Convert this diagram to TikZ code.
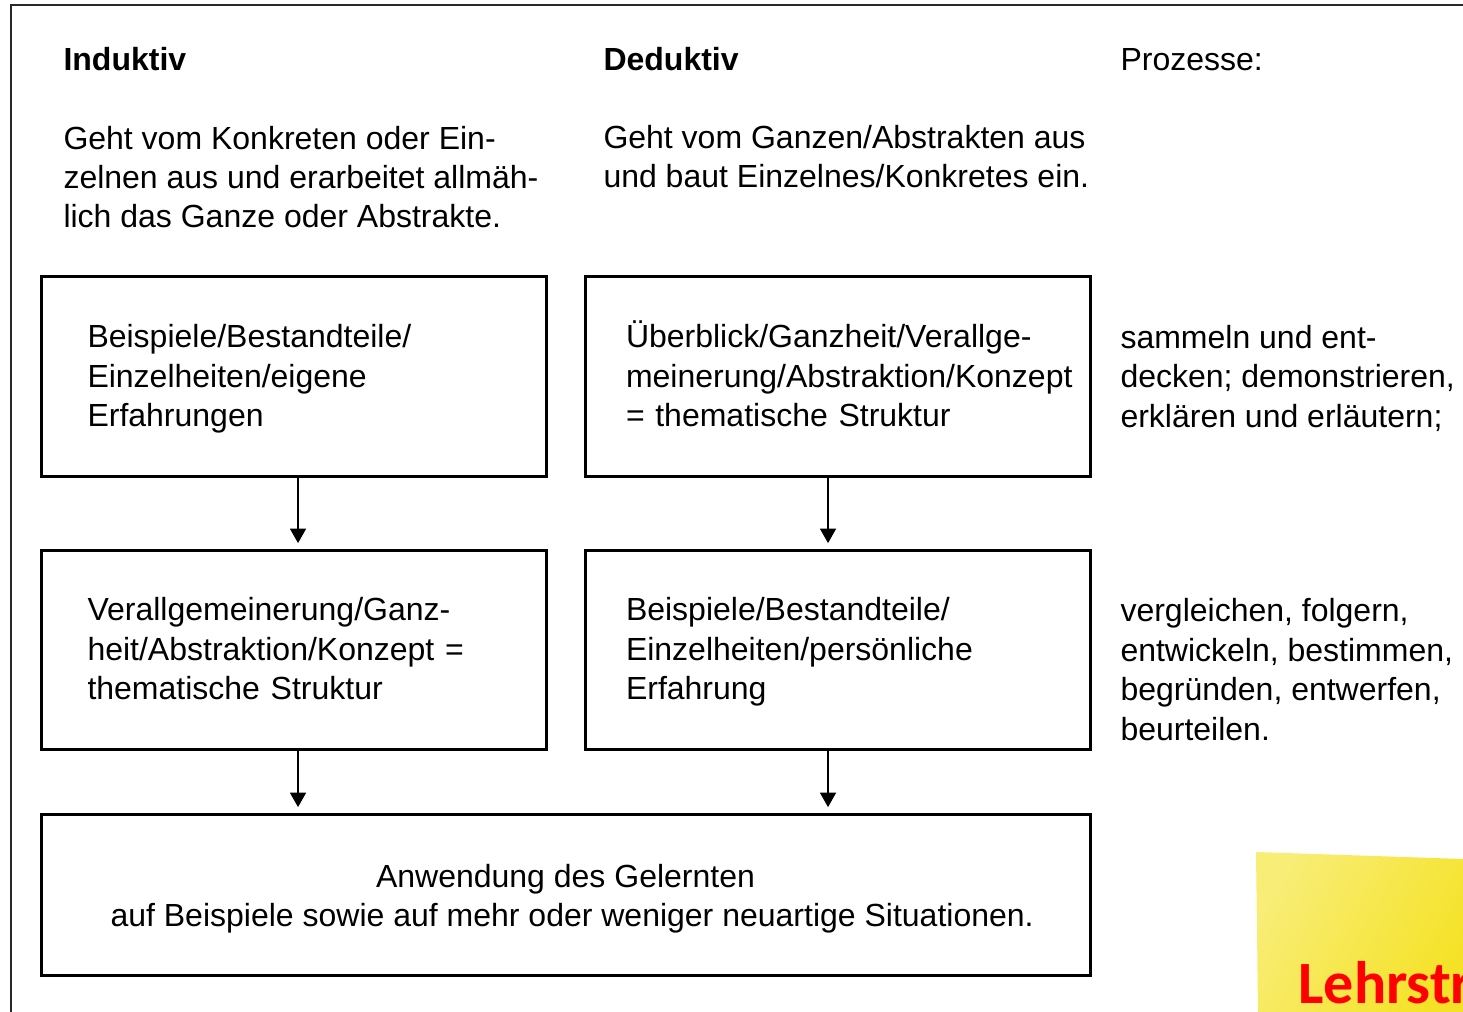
\documentclass[tikz,border=0pt]{standalone}
\usepackage{fontspec}
\setmainfont{Liberation Sans}
\newfontfamily\notefont{Carlito}
\usetikzlibrary{arrows.meta}

\newcommand\zeileoben[1]{\rule{0pt}{#1}}
\newcommand\zeileunten{\rule[-6.5pt]{0pt}{0pt}}

\tikzset{every picture/.style={line width=0.75pt}}
\tikzset{
  lernbox/.style={draw, line width=2.25pt, inner sep=0pt, align=left,
    minimum width=378.75pt, minimum height=149.25pt,
    font=\fontsize{24}{29.6}\selectfont},
  fliesstext/.style={anchor=base west, inner sep=0pt, align=left,
    font=\fontsize{24}{29.6}\selectfont},
  pfeil/.style={line width=1.5pt, shorten >=4pt,
    -{Triangle[width=12pt,length=11pt]}}
}

\begin{document}
\begin{tikzpicture}[x=0.75pt,y=0.75pt,yscale=-1,xscale=1]
\useasboundingbox (0,0) rectangle (1463,1012);

%Straight Lines (frame)
\draw [color={rgb, 255:red, 40; green, 40; blue, 40 }, line width=1.5pt] (11,1012) -- (11,5) -- (1463,5) ;

%Shape: sticky note
\shade [left color={rgb, 255:red, 248; green, 237; blue, 118 }, right color={rgb, 255:red, 245; green, 226; blue, 40 }, shading angle=60]
  (1256,852) -- (1463,859) -- (1463,1012) -- (1258,1012) -- cycle ;
% Text Node
\node (notiz) [anchor=base west, inner sep=0pt, text={rgb, 255:red, 255; green, 0; blue, 0 }, font=\notefont\bfseries\fontsize{45}{54}\selectfont] at (1298,1003) {Lehrstr};

% Text Node
\node (indkopf) [fliesstext, font=\fontsize{24}{29.6}\selectfont\bfseries] at (63,71) {Induktiv};
% Text Node
\node (dedkopf) [fliesstext, font=\fontsize{24}{29.6}\selectfont\bfseries] at (603,71) {Deduktiv};
% Text Node
\node (prozkopf) [fliesstext] at (1120,71) {Prozesse:};
% Text Node (base = last line)
\node (indtext) [fliesstext] at (63,228) {Geht vom Konkreten oder Ein-\\zelnen aus und erarbeitet allmäh-\\lich das Ganze oder Abstrakte.};
% Text Node
\node (dedtext) [fliesstext] at (603,188) {Geht vom Ganzen/Abstrakten aus\\und baut Einzelnes/Konkretes ein.};

%Shape: Rectangle
\node (ind1) [lernbox, text width=309pt] at (293.5,376.5) {\zeileoben{22.9pt}Beispiele/Bestandteile/\\Einzelheiten/eigene\\Erfahrungen\zeileunten};
%Shape: Rectangle
\node (ded1) [lernbox, text width=317.25pt] at (837.5,376.5) {\zeileoben{22.9pt}Überblick/Ganzheit/Verallge-\\meinerung/Abstraktion/Konzept\\= thematische Struktur\zeileunten};
%Shape: Rectangle
\node (ind2) [lernbox, text width=309pt] at (293.5,649.5) {\zeileoben{22.9pt}Verallgemeinerung/Ganz-\\heit/Abstraktion/Konzept =\\thematische Struktur\zeileunten};
%Shape: Rectangle
\node (ded2) [lernbox, text width=317.25pt] at (837.5,649.5) {\zeileoben{22.9pt}Beispiele/Bestandteile/\\Einzelheiten/persönliche\\Erfahrung\zeileunten};
%Shape: Rectangle
\node (anwendung) [lernbox, align=center, minimum width=786.75pt, minimum height=120.75pt] at (565.5,894.5) {\zeileoben{24.9pt}Anwendung des Gelernten\\\hspace*{10pt}auf Beispiele sowie auf mehr oder weniger neuartige Situationen.\zeileunten};

% Text Node (base = last line)
\node (proz1) [fliesstext] at (1120,427) {sammeln und ent-\\decken; demonstrieren,\\erklären und erläutern;};
% Text Node
\node (proz2) [fliesstext] at (1120,740) {vergleichen, folgern,\\entwickeln, bestimmen,\\begründen, entwerfen,\\beurteilen.};

%Straight Lines
\draw [pfeil] ([xshift=3.4pt]ind1.south) -- ([xshift=3.4pt]ind2.north) ;
\draw [pfeil] ([xshift=-7.1pt]ded1.south) -- ([xshift=-7.1pt]ded2.north) ;
\draw [pfeil] ([xshift=3.4pt]ind2.south) -- ([xshift=3.4pt]ind2.south |- anwendung.north) ;
\draw [pfeil] ([xshift=-7.1pt]ded2.south) -- ([xshift=-7.1pt]ded2.south |- anwendung.north) ;

\end{tikzpicture}
\end{document}
